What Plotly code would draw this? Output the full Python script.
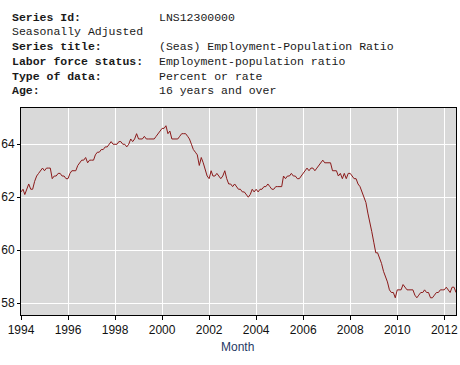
import plotly.graph_objects as go
import pandas as pd

# Monthly values, Jan 1994 .. Jul 2012
v1994 = [62.2, 62.3, 62.1, 62.3, 62.5, 62.3, 62.3, 62.6, 62.8, 62.9, 63.0, 63.1]
v1995 = [63.0, 63.1, 63.1, 63.1, 62.7, 62.8, 62.8, 62.9, 62.9, 62.8, 62.8, 62.7]
v1996 = [62.7, 62.9, 63.0, 63.0, 63.0, 63.2, 63.3, 63.4, 63.4, 63.5, 63.3, 63.4]
v1997 = [63.4, 63.4, 63.6, 63.7, 63.7, 63.8, 63.8, 63.9, 63.9, 64.0, 64.1, 64.0]
v1998 = [64.0, 64.0, 64.1, 64.1, 64.0, 64.0, 63.9, 64.0, 64.2, 64.1, 64.2, 64.4]
v1999 = [64.2, 64.2, 64.2, 64.3, 64.2, 64.2, 64.2, 64.2, 64.2, 64.3, 64.4, 64.5]
v2000 = [64.6, 64.6, 64.7, 64.4, 64.5, 64.2, 64.2, 64.2, 64.2, 64.3, 64.4, 64.4]
v2001 = [64.4, 64.3, 64.2, 64.0, 63.8, 63.7, 63.6, 63.2, 63.5, 63.3, 63.0, 62.8]
v2002 = [62.7, 63.0, 62.8, 62.8, 62.9, 62.8, 62.7, 62.8, 63.0, 62.7, 62.5, 62.5]
v2003 = [62.4, 62.5, 62.4, 62.3, 62.3, 62.2, 62.2, 62.1, 62.0, 62.1, 62.3, 62.2]
v2004 = [62.3, 62.2, 62.3, 62.3, 62.4, 62.4, 62.5, 62.4, 62.3, 62.3, 62.4, 62.4]
v2005 = [62.4, 62.4, 62.8, 62.7, 62.8, 62.8, 62.9, 62.8, 62.8, 62.7, 62.7, 62.8]
v2006 = [62.9, 63.0, 63.1, 63.0, 63.1, 63.1, 63.0, 63.1, 63.2, 63.3, 63.4, 63.3]
v2007 = [63.3, 63.3, 63.3, 63.0, 63.0, 63.0, 62.8, 62.9, 62.7, 62.9, 62.7, 62.9]
v2008 = [62.9, 62.8, 62.7, 62.7, 62.5, 62.4, 62.2, 62.0, 61.8, 61.4, 61.1, 60.7]
v2009 = [60.3, 59.9, 59.9, 59.7, 59.5, 59.2, 59.0, 58.8, 58.5, 58.4, 58.4, 58.2]
v2010 = [58.5, 58.5, 58.5, 58.7, 58.6, 58.5, 58.5, 58.5, 58.5, 58.3, 58.2, 58.3]
v2011 = [58.4, 58.4, 58.5, 58.4, 58.4, 58.2, 58.2, 58.3, 58.4, 58.4, 58.5, 58.5]
v2012 = [58.5, 58.6, 58.5, 58.4, 58.6, 58.6, 58.4]

values = (v1994 + v1995 + v1996 + v1997 + v1998 + v1999 + v2000 + v2001 + v2002
          + v2003 + v2004 + v2005 + v2006 + v2007 + v2008 + v2009 + v2010
          + v2011 + v2012)
months = pd.date_range("1994-01-01", periods=len(values), freq="MS")

y_ticks = [58, 60, 62, 64]

header_labels = ["Series Id:", "", "Series title:", "Labor force status:",
                 "Type of data:", "Age:"]
header_values = ["LNS12300000", "", "(Seas) Employment-Population Ratio",
                 "Employment-population ratio", "Percent or rate",
                 "16 years and over"]
header_plain = ["", "Seasonally Adjusted", "", "", "", ""]

W, H = 460, 365
ML, MR, MT, MB = 21, 4, 108, 50
PW, PH = W - ML - MR, H - MT - MB


def px_x(px):
    return (px - ML) / PW


def px_y(py):
    return (H - MB - py) / PH


fig = go.Figure()
fig.add_trace(go.Scatter(
    x=months, y=values, mode="lines",
    line=dict(color="#8B1A1A", width=1),
    hoverinfo="skip", showlegend=False,
))

annotations = []
row_y = [17, 32, 46.5, 61, 76, 90.5]
mono = dict(family="Liberation Mono, Courier New, monospace", size=11.5, color="#1a1a1a")
for i, yy in enumerate(row_y):
    if header_labels[i]:
        annotations.append(dict(
            x=px_x(10), y=px_y(yy), xref="paper", yref="paper",
            xanchor="left", yanchor="middle", showarrow=False,
            text="<b>" + header_labels[i] + "</b>", font=mono))
    if header_plain[i]:
        annotations.append(dict(
            x=px_x(10), y=px_y(yy), xref="paper", yref="paper",
            xanchor="left", yanchor="middle", showarrow=False,
            text=header_plain[i], font=mono))
    if header_values[i]:
        annotations.append(dict(
            x=px_x(157), y=px_y(yy), xref="paper", yref="paper",
            xanchor="left", yanchor="middle", showarrow=False,
            text=header_values[i], font=mono))

annotations.append(dict(
    x=px_x(237), y=px_y(347), xref="paper", yref="paper",
    xanchor="center", yanchor="middle", showarrow=False,
    text="Month", font=dict(family="Liberation Sans, Arial, sans-serif",
                            size=12, color="#1F3864")))

fig.update_layout(
    width=W, height=H,
    margin=dict(l=ML, r=MR, t=MT, b=MB, pad=0, autoexpand=False),
    paper_bgcolor="white", plot_bgcolor="#D9D9D9",
    font=dict(family="Liberation Sans, Arial, sans-serif", size=12, color="#111111"),
    annotations=annotations,
    xaxis=dict(
        range=["1994-01-01", "2012-07-01"], automargin=False,
        tickformat="%Y", dtick="M24", tick0="1994-01-01",
        showgrid=True, gridcolor="white", gridwidth=1,
        ticks="outside", ticklen=4, tickcolor="black", tickwidth=1,
        showline=True, linecolor="black", linewidth=1, mirror=True,
        zeroline=False, tickfont=dict(size=12),
    ),
    yaxis=dict(
        range=[57.55, 65.37], tickvals=y_ticks, automargin=False,
        ticktext=[str(t) for t in y_ticks],
        showgrid=True, gridcolor="white", gridwidth=1,
        ticks="outside", ticklen=3, tickcolor="black", tickwidth=1,
        showline=True, linecolor="black", linewidth=1, mirror=True,
        zeroline=False, tickfont=dict(size=12),
    ),
)

fig.write_html(
    "out.html",
    config={"displayModeBar": False},
    post_script="document.body.style.margin='0';document.body.style.overflow='hidden';",
)
